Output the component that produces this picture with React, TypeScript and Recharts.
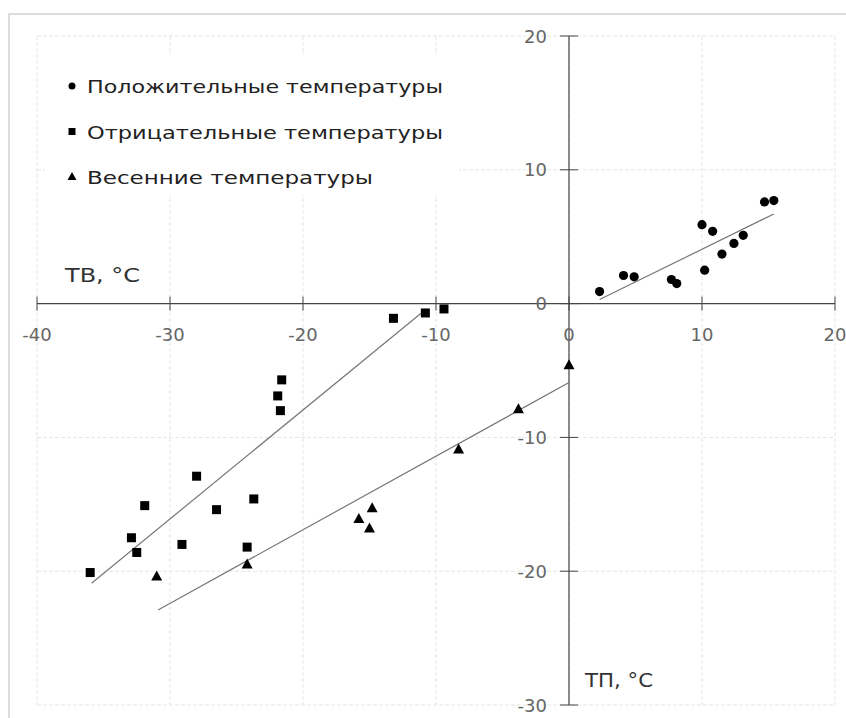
import React from 'react';
import {
  ScatterChart,
  Scatter,
  XAxis,
  YAxis,
  CartesianGrid,
  ReferenceLine,
  Legend,
  Customized,
} from 'recharts';

// ticks
const xTicks = [-40, -30, -20, -10, 0, 10, 20];
const yTicks = [-30, -20, -10, 0, 10, 20];

// positive temperatures
const posX = [2.3, 4.1, 4.9, 7.7, 8.1, 10.0, 10.2, 10.8, 11.5, 12.4, 13.1, 14.7, 15.4];
const posY = [0.9, 2.1, 2.0, 1.8, 1.5, 5.9, 2.5, 5.4, 3.7, 4.5, 5.1, 7.6, 7.7];

// negative temperatures
const negX = [-13.2, -10.8, -9.4, -21.6, -21.9, -21.7, -28.0, -31.9, -26.5, -23.7, -32.9, -32.5, -29.1, -24.2, -36.0];
const negY = [-1.1, -0.7, -0.4, -5.7, -6.9, -8.0, -12.9, -15.1, -15.4, -14.6, -17.5, -18.6, -18.0, -18.2, -20.1];

// spring temperatures
const springX = [-31.0, -24.2, -15.8, -14.8, -15.0, -8.3, -3.8, 0.0];
const springY = [-20.4, -19.5, -16.1, -15.3, -16.8, -10.9, -7.9, -4.6];

// trend line end points
const posTrendX = [2.3, 15.4];
const posTrendY = [0.3, 6.7];
const negTrendX = [-35.9, -11.1];
const negTrendY = [-20.9, -0.7];
const springTrendX = [-30.9, 0];
const springTrendY = [-22.9, -5.9];

const seriesNames = [
  'Положительные температуры',
  'Отрицательные температуры',
  'Весенние температуры',
];

const zip = (xs: number[], ys: number[]) => xs.map((x, i) => ({ x, y: ys[i] }));

const W = 846;
const H = 718;
const M = { top: 36, right: 11, bottom: 12, left: 36 };
const X_MIN = -40;
const X_MAX = 20;
const Y_MIN = -30;
const Y_MAX = 20;
const PLOT_LEFT = M.left + 1;
const PLOT_W = W - PLOT_LEFT - M.right;
const PLOT_H = H - M.top - M.bottom - 1;
const ZERO_X = PLOT_LEFT + (PLOT_W * (0 - X_MIN)) / (X_MAX - X_MIN);
const ZERO_Y = M.top + (PLOT_H * (Y_MAX - 0)) / (Y_MAX - Y_MIN);

const FONT = '"DejaVu Sans", sans-serif';
const AXIS = '#444';

const Dot = (p: any) => <circle cx={p.cx} cy={p.cy} r={4.6} fill="#000" />;
const Sq = (p: any) => (
  <rect x={p.cx - 4.5} y={p.cy - 4.5} width={9} height={9} fill="#000" />
);
const Tri = (p: any) => (
  <polygon
    points={`${p.cx},${p.cy - 6} ${p.cx + 5.5},${p.cy + 4} ${p.cx - 5.5},${p.cy + 4}`}
    fill="#000"
  />
);
const NoShape = () => <g />;

const renderXTick = ({ x, payload }: any) => (
  <g key={`xt-${payload.value}`}>
    <line x1={x} x2={x} y1={ZERO_Y - 7} y2={ZERO_Y + 7} stroke={AXIS} />
    <text
      x={x}
      y={ZERO_Y + 31}
      textAnchor="middle"
      dominantBaseline="central"
      fontFamily={FONT}
      fontSize={18}
      fill="#666"
    >
      {payload.value}
    </text>
  </g>
);

const renderYTick = ({ y, payload }: any) => (
  <g key={`yt-${payload.value}`}>
    <line x1={ZERO_X - 9} x2={ZERO_X + 9} y1={y} y2={y} stroke={AXIS} />
    <text
      x={ZERO_X - 22}
      y={y}
      textAnchor="end"
      dominantBaseline="central"
      fontFamily={FONT}
      fontSize={18}
      fill="#666"
    >
      {payload.value}
    </text>
  </g>
);

const legendWidths = [356, 356, 286];

const renderLegend = () => (
  <svg width={414} height={140} style={{ display: 'block', background: '#fff' }}>
    {seriesNames.map((name, i) => {
      const cy = 31 + i * 45.5;
      return (
        <g key={name}>
          {i === 0 && <circle cx={27} cy={cy} r={3.5} fill="#000" />}
          {i === 1 && <rect x={23.5} y={cy - 3.5} width={7} height={7} fill="#000" />}
          {i === 2 && (
            <polygon points={`27,${cy - 5} 31.5,${cy + 3} 22.5,${cy + 3}`} fill="#000" />
          )}
          <text
            x={42}
            y={cy + 7}
            fontFamily={FONT}
            fontSize={18}
            fill="#222"
            textLength={legendWidths[i]}
            lengthAdjust="spacingAndGlyphs"
          >
            {name}
          </text>
        </g>
      );
    })}
  </svg>
);

const Titles = () => (
  <g fontFamily={FONT} fontSize={19} fill="#333">
    <text x={65} y={282} textLength={75} lengthAdjust="spacingAndGlyphs">
      ТВ, °C
    </text>
    <text x={585} y={687} textLength={68} lengthAdjust="spacingAndGlyphs">
      ТП, °C
    </text>
  </g>
);

const App = () => {
  return (
    <div style={{ position: 'fixed', left: 0, top: 0, width: W, height: H, background: '#fff' }}>
      <div
        style={{
          position: 'absolute',
          left: 8,
          top: 13,
          right: 0,
          bottom: 0,
          borderTop: '2px solid #dcdcdc',
          borderLeft: '2px solid #dcdcdc',
        }}
      />
      <ScatterChart width={W} height={H} margin={M} style={{ position: 'absolute', left: 0, top: 0 }}>
        <CartesianGrid stroke="#e6e6e6" strokeDasharray="4 2" />
        <XAxis
          type="number"
          dataKey="x"
          domain={[X_MIN, X_MAX]}
          ticks={xTicks}
          interval={0}
          height={1}
          axisLine={false}
          tickLine={false}
          tick={renderXTick}
        />
        <YAxis
          type="number"
          dataKey="y"
          domain={[Y_MIN, Y_MAX]}
          ticks={yTicks}
          interval={0}
          width={1}
          axisLine={false}
          tickLine={false}
          tick={renderYTick}
        />
        <ReferenceLine y={0} stroke={AXIS} strokeWidth={1.2} />
        <ReferenceLine x={0} stroke={AXIS} strokeWidth={1.2} />
        <Legend
          layout="vertical"
          align="center"
          verticalAlign="middle"
          wrapperStyle={{ left: 45, top: 55 }}
          content={renderLegend}
        />
        <Scatter
          name="posTrend"
          data={zip(posTrendX, posTrendY)}
          line={{ stroke: '#777', strokeWidth: 1.2 }}
          shape={NoShape}
          legendType="none"
          isAnimationActive={false}
        />
        <Scatter
          name="negTrend"
          data={zip(negTrendX, negTrendY)}
          line={{ stroke: '#777', strokeWidth: 1.2 }}
          shape={NoShape}
          legendType="none"
          isAnimationActive={false}
        />
        <Scatter
          name="springTrend"
          data={zip(springTrendX, springTrendY)}
          line={{ stroke: '#777', strokeWidth: 1.2 }}
          shape={NoShape}
          legendType="none"
          isAnimationActive={false}
        />
        <Scatter name={seriesNames[0]} data={zip(posX, posY)} shape={Dot} isAnimationActive={false} />
        <Scatter name={seriesNames[1]} data={zip(negX, negY)} shape={Sq} isAnimationActive={false} />
        <Scatter name={seriesNames[2]} data={zip(springX, springY)} shape={Tri} isAnimationActive={false} />
        <Customized component={<Titles />} />
      </ScatterChart>
    </div>
  );
};

export default App;
